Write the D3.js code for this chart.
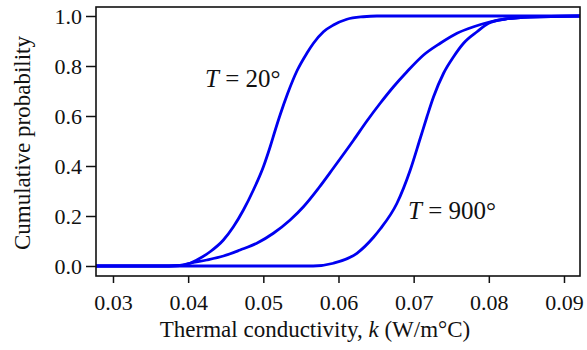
<!DOCTYPE html>
<html>
<head>
<meta charset="utf-8">
<script src="https://cdn.jsdelivr.net/npm/d3@7"></script>
<style>
  body { margin: 0; background: #fff; }
</style>
</head>
<body>
<div id="chart"></div>
<script>
//- Data: thermal conductivity k (W/m°C) vs cumulative probability
const FONT = "'Liberation Serif', 'Times New Roman', Times, serif";

//  T = 20°
const k20 = [0.0277, 0.0360, 0.0389, 0.04025, 0.04115, 0.04292, 0.04469, 0.04602, 0.04735, 0.04868, 0.05001, 0.05091, 0.05157, 0.05224, 0.05321, 0.0545, 0.05579, 0.05667, 0.0580, 0.05933, 0.06112, 0.06329, 0.06511, 0.0922];
const p20 = [0, 0, 0.002, 0.011, 0.024, 0.057, 0.104, 0.157, 0.224, 0.304, 0.397, 0.477, 0.542, 0.605, 0.688, 0.782, 0.851, 0.891, 0.937, 0.964, 0.987, 0.997, 1.0, 1.0];

//  intermediate temperature
const kMid = [0.0277, 0.0360, 0.0389, 0.04025, 0.04248, 0.04469, 0.04691, 0.04913, 0.05134, 0.05357, 0.05534, 0.05734, 0.05933, 0.0620, 0.06378, 0.06555, 0.06732, 0.06911, 0.07132, 0.07354, 0.07577, 0.07798, 0.07997, 0.0822, 0.0855, 0.0922];
const pMid = [0, 0, 0.002, 0.011, 0.024, 0.040, 0.064, 0.091, 0.131, 0.184, 0.237, 0.311, 0.392, 0.503, 0.580, 0.651, 0.717, 0.777, 0.844, 0.891, 0.931, 0.957, 0.975, 0.988, 0.996, 1.0];

//  T = 900°
const k900 = [0.0277, 0.05663, 0.05933, 0.06245, 0.06466, 0.06555, 0.06778, 0.06955, 0.07088, 0.07177, 0.07265, 0.07398, 0.07531, 0.07664, 0.07843, 0.07997, 0.0822, 0.0855, 0.0922];
const p900 = [0, 0, 0.011, 0.051, 0.115, 0.148, 0.251, 0.384, 0.511, 0.597, 0.677, 0.771, 0.837, 0.891, 0.937, 0.971, 0.988, 0.996, 1.0];

const xTicks = [0.03, 0.04, 0.05, 0.06, 0.07, 0.08, 0.09];
const yTicks = [0.0, 0.2, 0.4, 0.6, 0.8, 1.0];

const WIDTH = 587, HEIGHT = 350;
const plot = { left: 96, right: 580, top: 7, bottom: 276 };

const svg = d3.select("#chart").append("svg")
    .attr("width", WIDTH)
    .attr("height", HEIGHT)
    .attr("font-family", FONT);

//- Scales
const xScale = d3.scaleLinear().domain([0.02774, 0.09213]).range([plot.left, plot.right]);
const yScale = d3.scaleLinear().domain([-0.04, 1.036]).range([plot.bottom, plot.top]);

//- Curves
const line = d3.line()
    .x(d => xScale(d[0]))
    .y(d => yScale(d[1]))
    .curve(d3.curveMonotoneX);

const series = [d3.zip(k900, p900), d3.zip(kMid, pMid), d3.zip(k20, p20)];

svg.append("defs").append("clipPath").attr("id", "clip")
    .append("rect")
    .attr("x", plot.left).attr("y", plot.top)
    .attr("width", plot.right - plot.left).attr("height", plot.bottom - plot.top);

svg.append("g").attr("clip-path", "url(#clip)")
    .selectAll("path")
    .data(series)
    .enter()
    .append("path")
    .attr("d", line)
    .attr("fill", "none")
    .attr("stroke", "#0000f0")
    .attr("stroke-width", 2.8)
    .attr("stroke-linejoin", "round");

//- Axes
const xAxis = d3.axisBottom(xScale).tickValues(xTicks).tickFormat(d3.format(".2f")).tickSize(7).tickPadding(11);
const yAxis = d3.axisLeft(yScale).tickValues(yTicks).tickFormat(d3.format(".1f")).tickSize(10).tickPadding(4);

const gx = svg.append("g")
    .attr("transform", `translate(0, ${plot.bottom})`)
    .call(xAxis);

const gy = svg.append("g")
    .attr("transform", `translate(${plot.left}, 0)`)
    .call(yAxis);

[gx, gy].forEach(g => {
    g.attr("font-family", FONT).attr("font-size", 22);
    g.select(".domain").remove();
    g.selectAll(".tick line").attr("stroke", "#111").attr("stroke-width", 1.5);
    g.selectAll(".tick text").attr("fill", "#111");
});

//- Frame
svg.append("rect")
    .attr("x", plot.left).attr("y", plot.top)
    .attr("width", plot.right - plot.left).attr("height", plot.bottom - plot.top)
    .attr("fill", "none")
    .attr("stroke", "#111")
    .attr("stroke-width", 1.6);

//- Axis titles
const xt = svg.append("text")
    .attr("x", 315).attr("y", 337)
    .attr("text-anchor", "middle")
    .attr("font-size", 23)
    .attr("fill", "#111");
xt.append("tspan").text("Thermal conductivity, ");
xt.append("tspan").attr("font-style", "italic").text("k");
xt.append("tspan").text(" (W/m\u00B0C)");

svg.append("text")
    .attr("transform", "translate(30, 143) rotate(-90)")
    .attr("text-anchor", "middle")
    .attr("font-size", 23)
    .attr("fill", "#111")
    .text("Cumulative probability");

//- Annotations
function annotate(x, y, value){
    let t = svg.append("text").attr("x", x).attr("y", y).attr("font-size", 25).attr("fill", "#111");
    t.append("tspan").attr("font-style", "italic").text("T");
    t.append("tspan").text(` = ${value}\u00B0`);
}
annotate(205, 87, "20");
annotate(408, 219, "900");
</script>
</body>
</html>
